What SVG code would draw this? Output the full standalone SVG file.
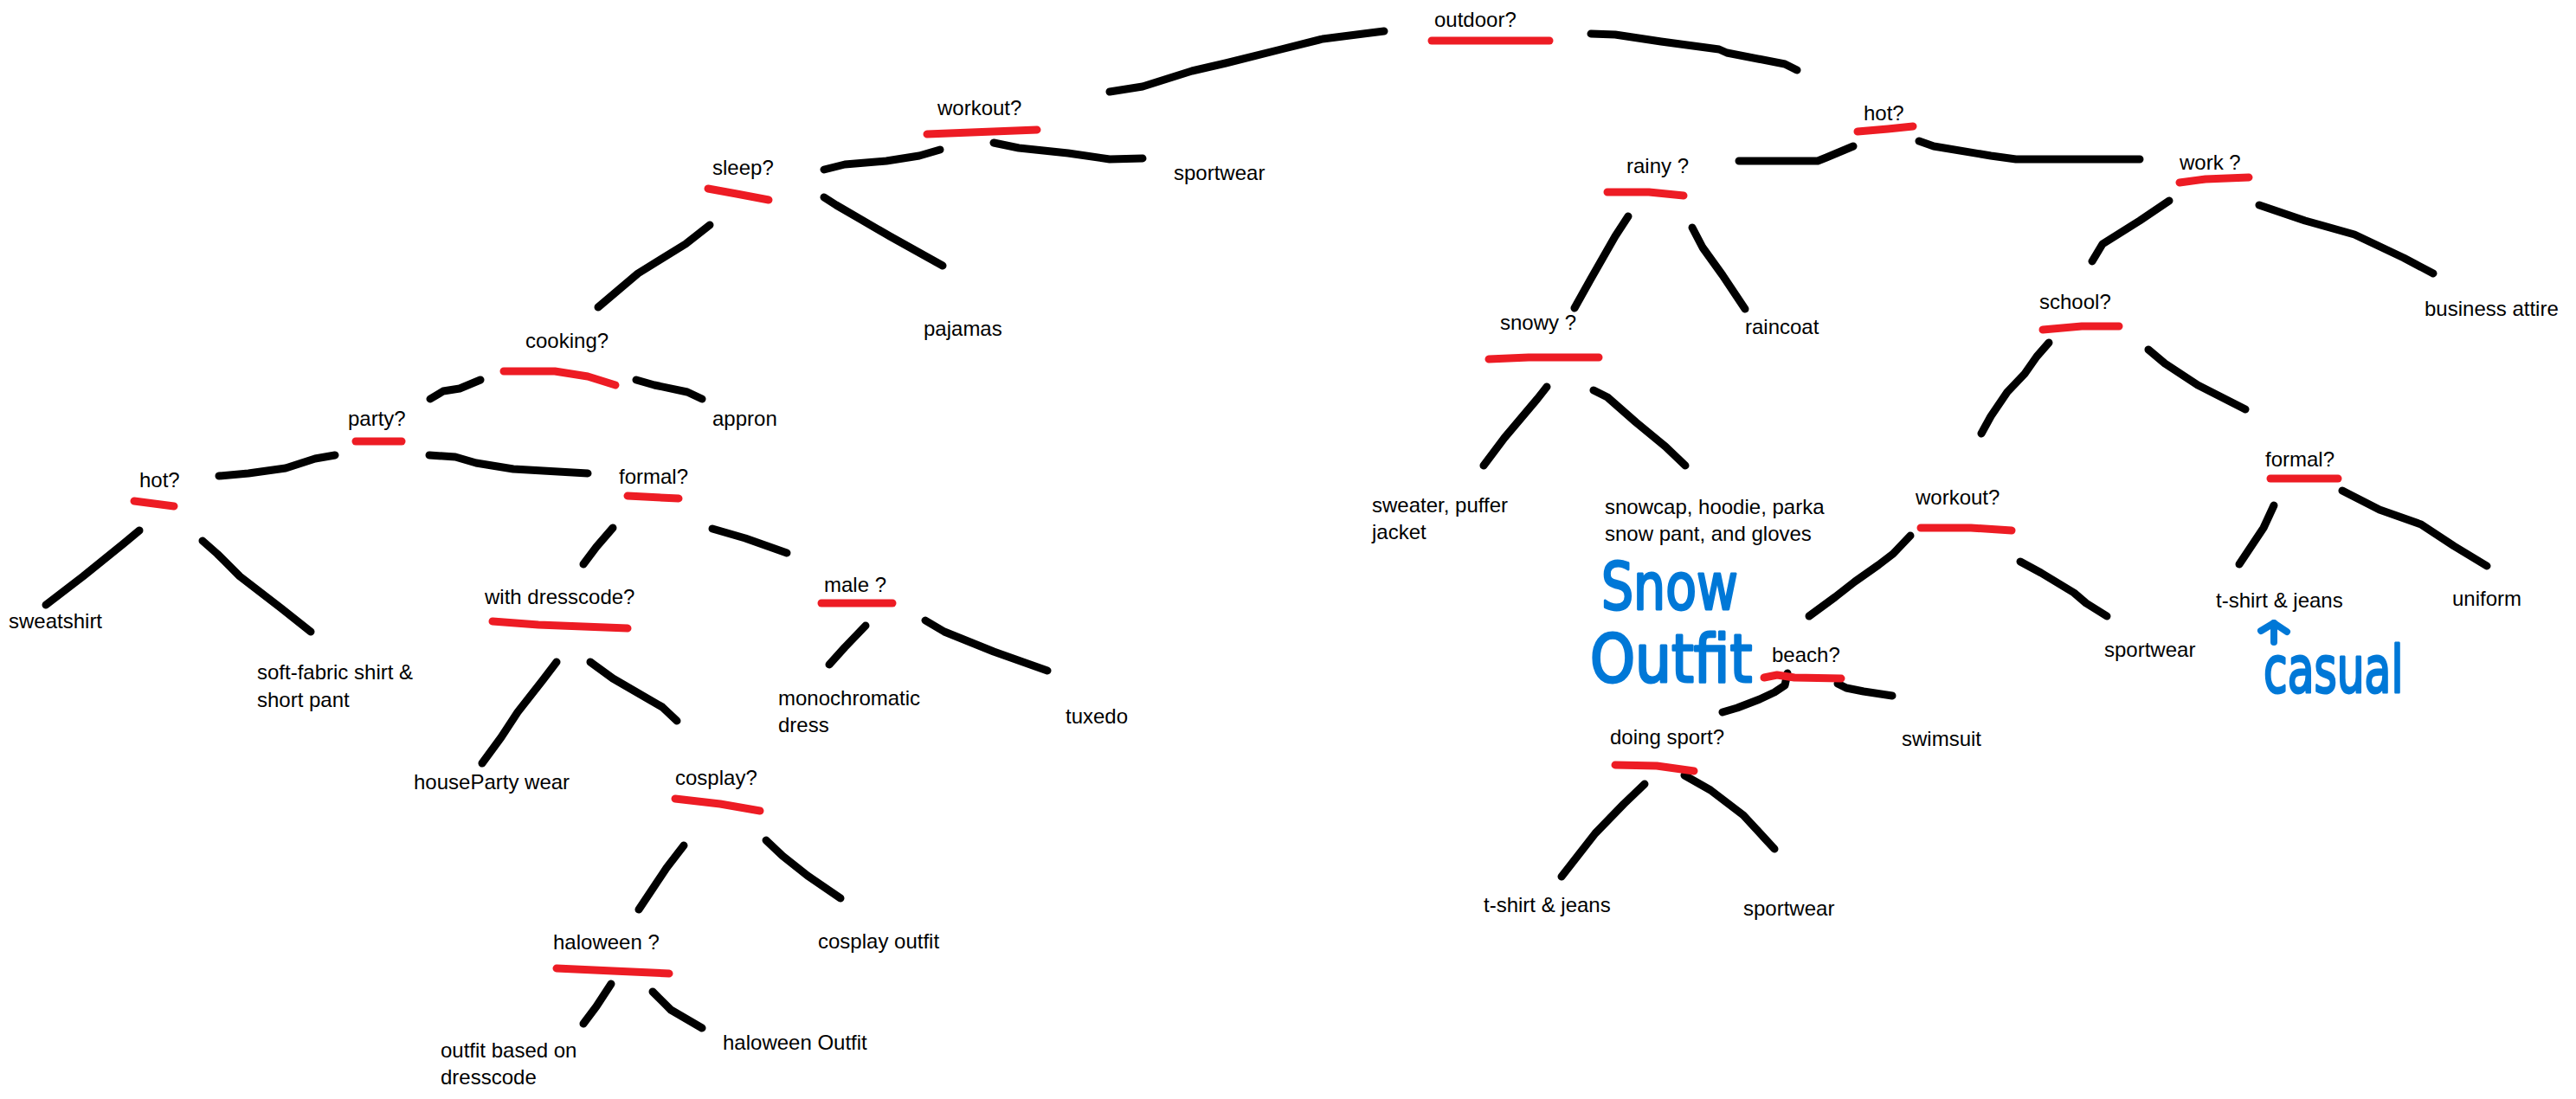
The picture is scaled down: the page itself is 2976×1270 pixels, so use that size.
<svg xmlns="http://www.w3.org/2000/svg" width="2976" height="1270" viewBox="0 0 2976 1270">
<style>
text{font-family:"Liberation Sans",Arial,sans-serif;font-size:24px;fill:#000}
.c{fill:none;stroke:#000;stroke-width:9;stroke-linecap:round;stroke-linejoin:round}
.u{fill:none;stroke:#ed1c24;stroke-width:9;stroke-linecap:round;stroke-linejoin:round}
.b{fill:none;stroke:#0078d7;stroke-width:8;stroke-linecap:round;stroke-linejoin:round}
text.hw{font-family:"DejaVu Sans",sans-serif;fill:#0078d7;stroke:#0078d7;stroke-width:3;stroke-linejoin:round}
text.hw1{font-size:74px}
text.hw2{font-size:76px}
</style>
<rect width="2976" height="1270" fill="#fff"/>
<g id="connectors">
<polyline class="c" points="1282,106 1320,100 1377,82 1416,73 1480,57 1528,45 1575,39 1599,36"/>
<polyline class="c" points="1838,39 1866,40 1919,48 1986,57 1995,61 2062,74 2076,81"/>
<polyline class="c" points="1086,173 1062,180 1024,186 976,190 952,196"/>
<polyline class="c" points="1148,165 1177,171 1234,177 1282,184 1320,183"/>
<polyline class="c" points="820,260 792,282 737,316 691,355"/>
<polyline class="c" points="952,228 966,237 1028,273 1089,307"/>
<polyline class="c" points="555,439 531,449 512,452 497,461"/>
<polyline class="c" points="735,439 756,445 794,453 811,461"/>
<polyline class="c" points="387,526 364,530 330,541 287,547 253,550"/>
<polyline class="c" points="496,526 526,528 550,535 593,542 679,547"/>
<polyline class="c" points="161,613 143,628 96,666 53,699"/>
<polyline class="c" points="234,625 251,640 277,666 325,703 359,730"/>
<polyline class="c" points="708,610 689,632 674,652"/>
<polyline class="c" points="823,611 861,622 909,639"/>
<polyline class="c" points="643,765 627,786 598,823 579,852 557,882"/>
<polyline class="c" points="682,765 708,784 765,817 782,833"/>
<polyline class="c" points="1000,723 976,748 958,768"/>
<polyline class="c" points="1069,717 1091,730 1148,753 1210,775"/>
<polyline class="c" points="790,977 770,1003 756,1024 738,1051"/>
<polyline class="c" points="885,971 904,989 933,1012 971,1038"/>
<polyline class="c" points="706,1137 689,1163 674,1183"/>
<polyline class="c" points="754,1146 775,1167 811,1188"/>
<polyline class="c" points="2141,169 2110,182 2100,186 2009,186"/>
<polyline class="c" points="2217,163 2234,169 2300,180 2329,184 2472,184"/>
<polyline class="c" points="1881,250 1866,273 1838,322 1819,356"/>
<polyline class="c" points="1955,263 1967,286 1990,318 2016,357"/>
<polyline class="c" points="1787,447 1776,461 1738,506 1714,538"/>
<polyline class="c" points="1841,451 1857,459 1890,488 1924,516 1947,538"/>
<polyline class="c" points="2506,232 2472,255 2429,282 2417,302"/>
<polyline class="c" points="2610,237 2663,255 2720,271 2777,298 2811,316"/>
<polyline class="c" points="2367,396 2353,412 2339,432 2319,453 2300,481 2289,501"/>
<polyline class="c" points="2482,404 2501,420 2539,445 2594,473"/>
<polyline class="c" points="2627,584 2615,610 2587,652"/>
<polyline class="c" points="2706,567 2749,589 2797,606 2835,631 2873,654"/>
<polyline class="c" points="2207,619 2187,640 2170,653 2143,672 2120,690 2090,712"/>
<polyline class="c" points="2334,649 2358,662 2396,685 2410,697 2434,712"/>
<polyline class="c" points="2065,778 2062,792 2050,800 2033,808 2007,818 1990,823"/>
<polyline class="c" points="2123,790 2133,795 2153,799 2186,804"/>
<polyline class="c" points="1900,906 1876,929 1843,963 1804,1013"/>
<polyline class="c" points="1946,896 1976,913 2014,942 2050,981"/>
</g>
<g id="n-outdoor"><text x="1657" y="31">outdoor?</text><polyline class="u" points="1654,47 1790,47"/></g>
<g id="n-workout1"><text x="1083" y="133">workout?</text><polyline class="u" points="1071,155 1198,150"/></g>
<g id="n-sportwear1"><text x="1356" y="208">sportwear</text></g>
<g id="n-sleep"><text x="823" y="202">sleep?</text><polyline class="u" points="818,218 851,224 888,231"/></g>
<g id="n-pajamas"><text x="1067" y="388">pajamas</text></g>
<g id="n-cooking"><text x="607" y="402">cooking?</text><polyline class="u" points="582,429 641,429 679,435 711,445"/></g>
<g id="n-appron"><text x="823" y="492">appron</text></g>
<g id="n-party"><text x="402" y="492">party?</text><polyline class="u" points="411,510 464,510"/></g>
<g id="n-hot1"><text x="161" y="563">hot?</text><polyline class="u" points="155,579 201,585"/></g>
<g id="n-formal1"><text x="715" y="559">formal?</text><polyline class="u" points="725,573 784,576"/></g>
<g id="n-sweatshirt"><text x="10" y="726">sweatshirt</text></g>
<g id="n-softfabric"><text x="297" y="785">soft-fabric shirt &amp;</text><text x="297" y="817">short pant</text></g>
<g id="n-dresscode"><text x="560" y="698">with dresscode?</text><polyline class="u" points="569,718 622,722 725,726"/></g>
<g id="n-male"><text x="952" y="684">male ?</text><polyline class="u" points="949,697 1031,697"/></g>
<g id="n-houseparty"><text x="478" y="912">houseParty wear</text></g>
<g id="n-monochromatic"><text x="899" y="815">monochromatic</text><text x="899" y="846">dress</text></g>
<g id="n-tuxedo"><text x="1231" y="836">tuxedo</text></g>
<g id="n-cosplay"><text x="780" y="907">cosplay?</text><polyline class="u" points="780,923 832,929 878,937"/></g>
<g id="n-haloween"><text x="639" y="1097">haloween ?</text><polyline class="u" points="643,1119 708,1122 773,1125"/></g>
<g id="n-cosplayoutfit"><text x="945" y="1096">cosplay outfit</text></g>
<g id="n-outfitbased"><text x="509" y="1222">outfit based on</text><text x="509" y="1253">dresscode</text></g>
<g id="n-haloweenoutfit"><text x="835" y="1213">haloween Outfit</text></g>
<g id="n-hot2"><text x="2153" y="139">hot?</text><polyline class="u" points="2146,152 2181,149 2210,146"/></g>
<g id="n-rainy"><text x="1879" y="200">rainy ?</text><polyline class="u" points="1857,222 1905,222 1945,226"/></g>
<g id="n-raincoat"><text x="2016" y="386">raincoat</text></g>
<g id="n-snowy"><text x="1733" y="381">snowy ?</text><polyline class="u" points="1720,415 1766,413 1847,413"/></g>
<g id="n-sweater"><text x="1585" y="592">sweater, puffer</text><text x="1585" y="623">jacket</text></g>
<g id="n-snowcap"><text x="1854" y="594">snowcap, hoodie, parka</text><text x="1854" y="625">snow pant, and gloves</text></g>
<g id="n-work"><text x="2518" y="196">work ?</text><polyline class="u" points="2518,211 2548,207 2598,205"/></g>
<g id="n-business"><text x="2801" y="365">business attire</text></g>
<g id="n-school"><text x="2356" y="357">school?</text><polyline class="u" points="2360,381 2405,377 2448,377"/></g>
<g id="n-formal2"><text x="2617" y="539">formal?</text><polyline class="u" points="2623,553 2701,553"/></g>
<g id="n-workout2"><text x="2213" y="583">workout?</text><polyline class="u" points="2219,610 2277,610 2324,613"/></g>
<g id="n-tshirt2"><text x="2560" y="702">t-shirt &amp; jeans</text></g>
<g id="n-uniform"><text x="2833" y="700">uniform</text></g>
<g id="n-sportwear2"><text x="2431" y="759">sportwear</text></g>
<g id="n-beach"><text x="2047" y="765">beach?</text><polyline class="u" points="2038,783 2053,780 2073,783 2127,784"/></g>
<g id="n-swimsuit"><text x="2197" y="862">swimsuit</text></g>
<g id="n-doingsport"><text x="1860" y="860">doing sport?</text><polyline class="u" points="1866,884 1914,885 1957,891"/></g>
<g id="n-tshirt1"><text x="1714" y="1054">t-shirt &amp; jeans</text></g>
<g id="n-sportwear3"><text x="2014" y="1058">sportwear</text></g>
<g id="annotations">
<text class="hw hw1" transform="translate(1850,704) scale(0.79,1)">Snow</text>
<text class="hw hw2" transform="translate(1837,788) scale(0.87,1)">Outfit</text>
<polyline class="b" points="2627,742 2627,720"/>
<polyline class="b" points="2612,729 2627,720 2642,730"/>
<text class="hw hw1" transform="translate(2615,800) scale(0.68,1)">casual</text>
</g>
</svg>
